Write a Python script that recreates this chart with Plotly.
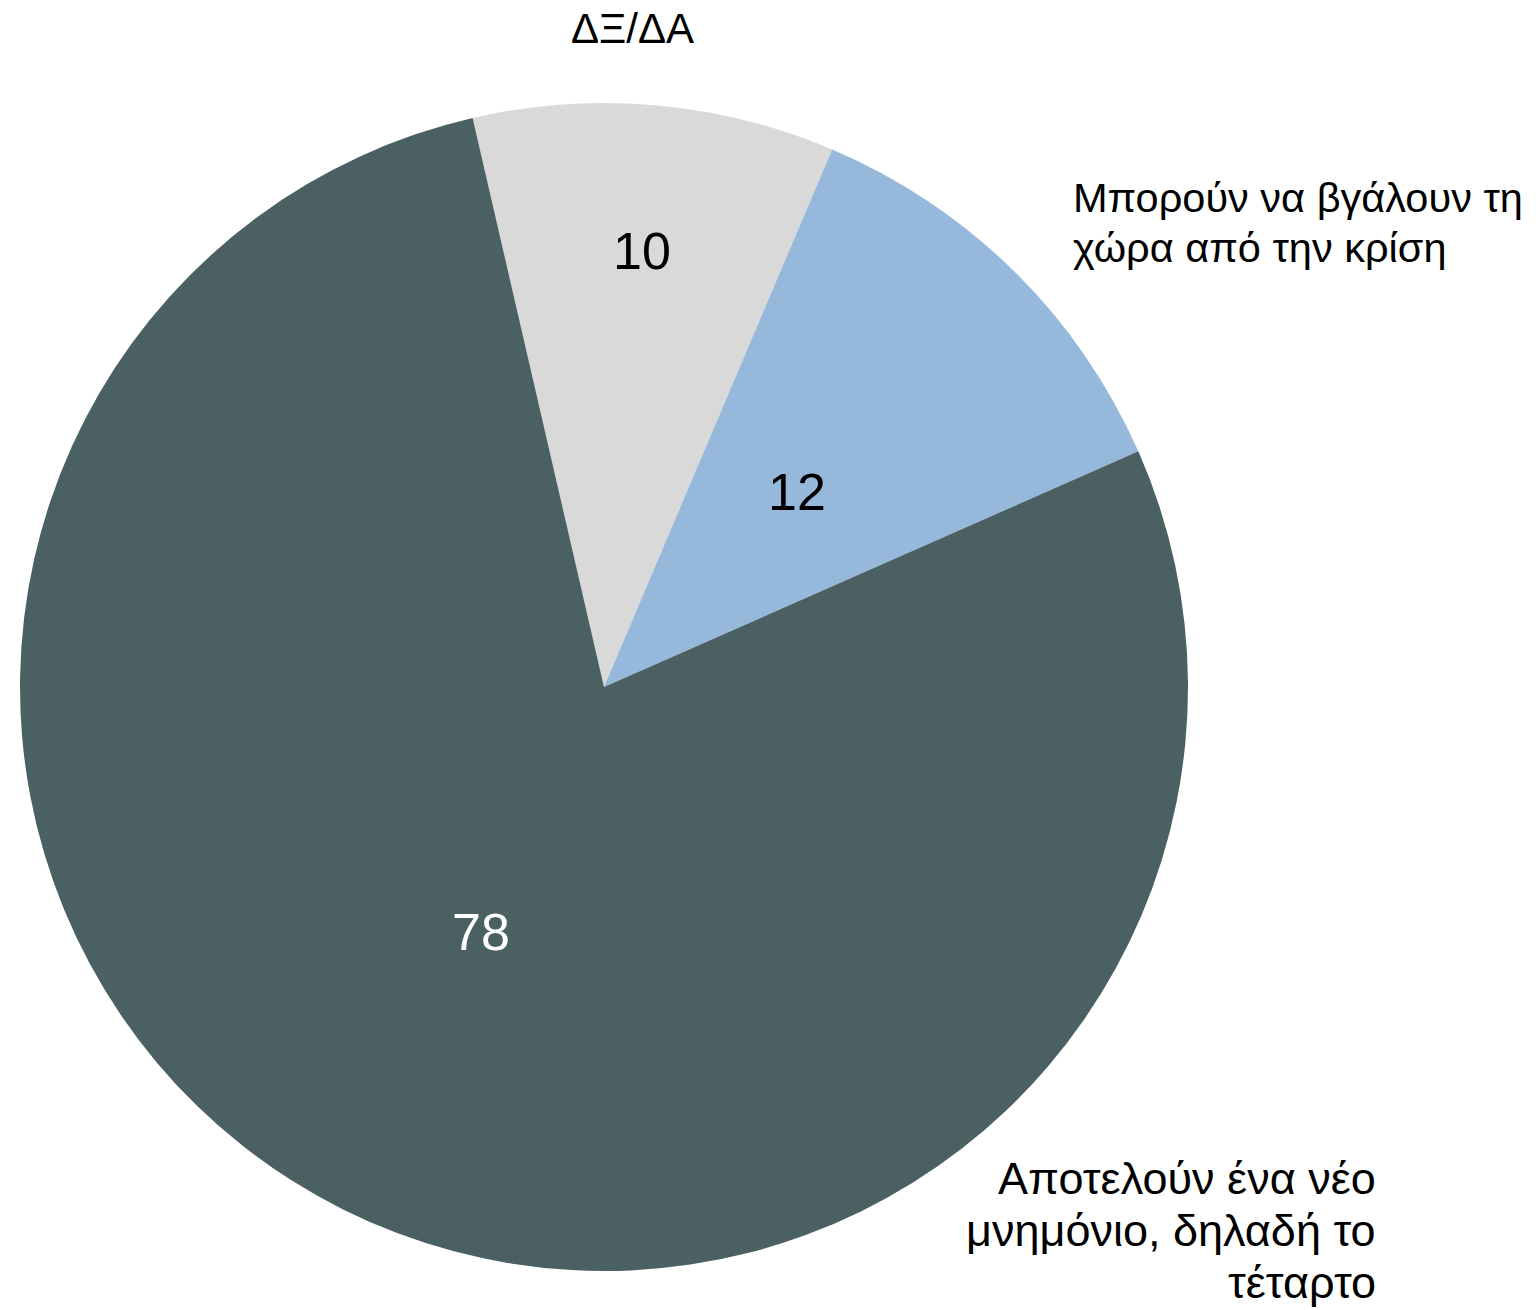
import math
import plotly.graph_objects as go

# slices, clockwise from the top
labels = ["ΔΞ/ΔΑ",
          "Μπορούν να βγάλουν τη<br>χώρα από την κρίση",
          "Αποτελούν ένα νέο<br>μνημόνιο, δηλαδή το<br>τέταρτο"]
values = [10, 12, 78]
colors = ["#d9d9d9", "#95b8db", "#4a6063"]
text_colors = ["#000000", "#000000", "#ffffff"]

FONT = "Liberation Sans"
W, H = 1536, 1310
OFF = 8                    # page body margin
CX, CY, R = 596, 679, 584  # pie centre / radius in figure pixels
START = -13                # first slice starts 13 deg left of 12 o'clock

fig = go.Figure()
fig.add_trace(
    go.Pie(labels=labels,
           values=values,
           sort=False,
           direction="clockwise",
           rotation=START,
           marker=dict(colors=colors, line=dict(width=0)),
           textinfo="none",
           showlegend=False,
           hoverinfo="label+value",
           domain=dict(x=[(CX - R) / W, (CX + R) / W],
                       y=[(H - CY - R) / H, (H - CY + R) / H])))


def px(x, y):
    return (x - OFF) / W, 1 - (y - OFF) / H


# value labels inside the slices, at mid angle of each slice
label_r = [0.75, 0.47, 0.47]
total = sum(values)
acc = 0
for v, tc, fr in zip(values, text_colors, label_r):
    mid = math.radians(START + 360 * (acc + v / 2) / total)
    acc += v
    fig.add_annotation(text=str(v),
                       x=(CX + fr * R * math.sin(mid)) / W,
                       y=(H - CY + fr * R * math.cos(mid)) / H,
                       xref="paper", yref="paper", showarrow=False,
                       xanchor="center", yanchor="middle",
                       font=dict(family=FONT, size=52, color=tc))

# category labels around the pie, one annotation per line
blocks = [
    (labels[0], 632, 28.5, "center", 42, 50),
    (labels[1], 1071, 197.5, "left", 41.5, 50),
    (labels[2], 1378, 1178, "right", 45, 52),
]
for text, x0, y0, anchor, size, pitch in blocks:
    for i, line in enumerate(text.split("<br>")):
        xp, yp = px(x0, y0 + i * pitch)
        fig.add_annotation(text=line, x=xp, y=yp, xref="paper", yref="paper",
                           showarrow=False, xanchor=anchor, yanchor="middle",
                           align=anchor,
                           font=dict(family=FONT, size=size, color="#000000"))

fig.update_layout(
    width=W,
    height=H,
    margin=dict(l=0, r=0, t=0, b=0),
    paper_bgcolor="#ffffff",
    plot_bgcolor="#ffffff",
    font=dict(family=FONT))

fig.write_html("out.html")
